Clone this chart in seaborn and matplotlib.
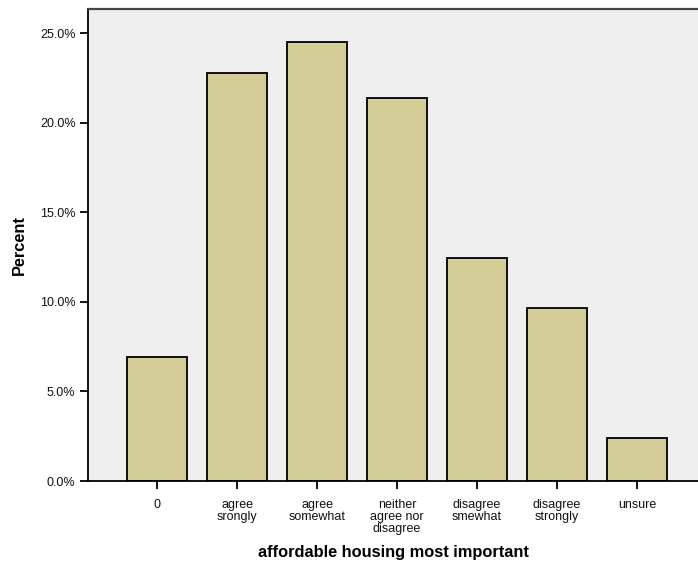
import matplotlib
matplotlib.use("Agg")
import matplotlib.pyplot as plt
import seaborn as sns
import pandas as pd
from matplotlib.ticker import FuncFormatter

categories = ["0", "agree\nsrongly", "agree\nsomewhat", "neither\nagree nor\ndisagree",
              "disagree\nsmewhat", "disagree\nstrongly", "unsure"]
percents = [6.92, 22.78, 24.5, 21.4, 12.43, 9.67, 2.42]
y_ticks = [0, 5, 10, 15, 20, 25]

sns.set_style("white")
plt.rcParams['font.family'] = ['Liberation Sans', 'DejaVu Sans']

df = pd.DataFrame({"cat": categories, "pct": percents})

fig = plt.figure(figsize=(6.98, 5.67), dpi=100)
ax = fig.add_axes([88/698, 1-481/567, 610/698, (481-9)/567])
ax.set_facecolor("#EFEFEF")

sns.barplot(data=df, x="cat", y="pct", color="#D3CE97", saturation=1,
            edgecolor="black", linewidth=1.3, width=0.75, ax=ax)

ax.set_xlim(-0.8625, 6.7625)
ax.set_ylim(0, (481-9)/17.92)
ax.set_yticks(y_ticks)
ax.yaxis.set_major_formatter(FuncFormatter(lambda v, p: f"{v:.1f}%"))

for s in ["left", "bottom"]:
    ax.spines[s].set_color("black")
    ax.spines[s].set_linewidth(1.3)
ax.spines["top"].set_color("#444444")
ax.spines["top"].set_linewidth(1.6)
ax.spines["right"].set_visible(False)

ax.tick_params(axis="both", direction="out", length=6, width=1.3, color="black",
               labelsize=9, labelcolor="#111111", left=True, bottom=True)
ax.tick_params(axis="x", pad=7)
ax.tick_params(axis="y", pad=3)
for lbl in ax.get_xticklabels():
    lbl.set_linespacing(1.0)

ax.set_xlabel("affordable housing most important", fontsize=11.8, fontweight="bold", color="black")
ax.set_ylabel("Percent", fontsize=11.8, fontweight="bold", color="black")
ax.yaxis.set_label_coords(-0.1, 0.5)
ax.xaxis.set_label_coords(0.5, -0.136)
ax.grid(False)

fig.savefig("out.png", dpi=100)
